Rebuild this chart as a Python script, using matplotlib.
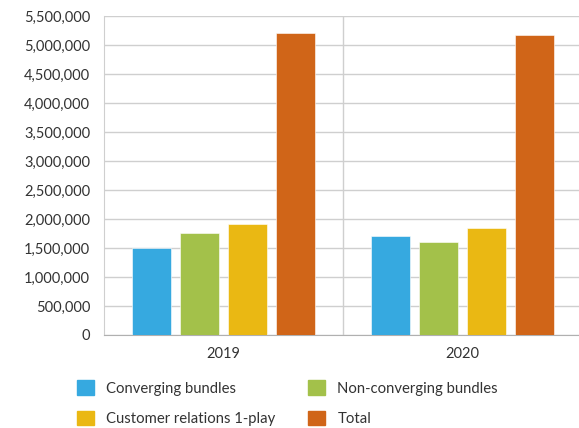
import matplotlib
matplotlib.use("Agg")
from matplotlib import pyplot as plt
from matplotlib.ticker import FuncFormatter, MultipleLocator
from matplotlib.patches import Patch
import numpy as np

plt.rcParams['font.family'] = ['Lato', 'DejaVu Sans']

years = ["2019", "2020"]
series = ["Converging bundles", "Non-converging bundles", "Customer relations 1-play", "Total"]
converging = [1500000, 1710000]
non_converging = [1760000, 1600000]
one_play = [1910000, 1840000]
total = [5200000, 5180000]
colors = ["#36A9E0", "#A3C14A", "#EAB813", "#D06518"]

values = [converging, non_converging, one_play, total]

fig = plt.figure(figsize=(5.79, 4.28), dpi=100)
ax = fig.add_axes([104 / 579, 1 - 335 / 428, 478 / 579, 319 / 428])

x = np.arange(len(years))
offsets = [-0.3, -0.1, 0.1, 0.3]
for vals, off, c in zip(values, offsets, colors):
    ax.bar(x + off, vals, width=0.162, color=c, edgecolor="white", linewidth=0.4, zorder=3)

ax.set_xlim(-0.5, 1.5)
ax.set_ylim(0, 5500000)
ax.yaxis.set_major_locator(MultipleLocator(500000))
ax.yaxis.set_major_formatter(FuncFormatter(lambda v, p: f"{int(v):,}"))
ax.set_xticks(x)
ax.set_xticklabels(years)
ax.grid(axis="y", color="#cfcfcf", linewidth=1, zorder=0)
ax.axvline(0.5, color="#cfcfcf", linewidth=1, zorder=0)

for s in ["top", "right"]:
    ax.spines[s].set_visible(False)
ax.spines["left"].set_color("#cfcfcf")
ax.spines["bottom"].set_color("#b0b0b0")
ax.tick_params(axis="both", length=0, labelsize=10.5, colors="#333333")
ax.tick_params(axis="y", pad=10)
ax.tick_params(axis="x", pad=9)

# legend is filled row by row in the reference
order = [0, 2, 1, 3]
handles = [Patch(facecolor=colors[i], edgecolor=colors[i]) for i in order]
labels = [series[i] for i in order]
fig.legend(handles=handles, labels=labels, ncol=2, loc="upper left",
           bbox_to_anchor=(64 / 579, 1 - 367 / 428), frameon=False,
           fontsize=10.7, handlelength=1.1, handleheight=1.1,
           handletextpad=0.85, columnspacing=2.2, labelspacing=1.05,
           labelcolor="#333333")

plt.savefig("out.png", dpi=100)
